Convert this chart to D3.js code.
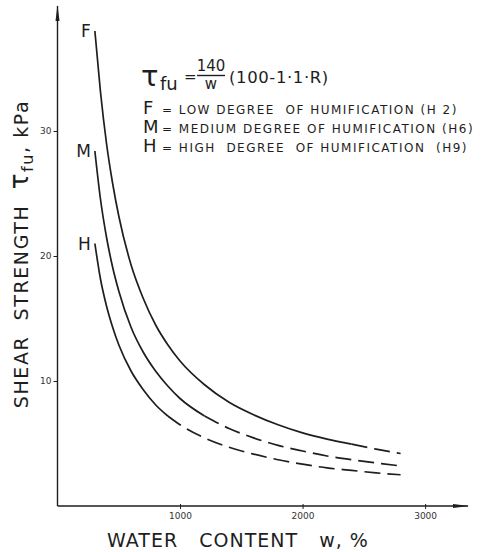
<!DOCTYPE html>
<html>
<head>
<meta charset="utf-8">
<script src="https://cdn.jsdelivr.net/npm/d3@7"></script>
<style>
  body { margin: 0; background: #fff; }
  svg { display: block; }
  text { font-family: "DejaVu Sans", sans-serif; fill: #1e1e1e; white-space: pre; }
  .tick text { font-size: 9px; fill: #333; }
</style>
</head>
<body>
<svg id="chart" width="504" height="552"></svg>
<script>
// DATA
var waterContent = [305, 350, 400, 450, 500, 600, 700, 800, 900, 1000, 1200, 1400, 1600, 1800, 2000, 2200, 2400, 2600, 2800];
var tauF = [38.0, 33.2, 29.0, 25.8, 23.2, 19.3, 16.6, 14.5, 12.9, 11.6, 9.7, 8.3, 7.3, 6.5, 5.85, 5.35, 4.95, 4.55, 4.2];
var tauM = [28.4, 24.6, 21.5, 19.1, 17.2, 14.3, 12.3, 10.8, 9.6, 8.6, 7.2, 6.2, 5.45, 4.85, 4.4, 4.0, 3.7, 3.45, 3.2];
var tauH = [21.0, 18.2, 16.0, 14.3, 12.9, 10.8, 9.3, 8.1, 7.2, 6.5, 5.45, 4.7, 4.15, 3.7, 3.35, 3.05, 2.85, 2.65, 2.5];
var curveNames = ["F", "M", "H"];
var solidUntil = [2400, 1200, 900];   // beyond this the curve is dashed
var xTicks = [1000, 2000, 3000];
var yTicks = [10, 20, 30];
var legendLines = [
  ["F", "= LOW DEGREE  OF HUMIFICATION (H 2)"],
  ["M", "= MEDIUM DEGREE OF HUMIFICATION (H6)"],
  ["H", "= HIGH  DEGREE  OF HUMIFICATION  (H9)"]
];

var svg = d3.select("#chart");
var ink = "#1e1e1e";

var x = d3.scaleLinear().domain([0, 3350]).range([57.5, 468]);
var y = d3.scaleLinear().domain([0, 40]).range([506, 6]);

// axes
var yAxis = svg.append("g")
    .attr("transform", "translate(" + x(0) + ",0)")
    .call(d3.axisLeft(y).tickValues(yTicks).tickSize(4).tickPadding(2).tickFormat(d3.format("d")));
yAxis.select(".domain").remove();
yAxis.selectAll("line").attr("stroke", ink);

var xAxis = svg.append("g")
    .attr("transform", "translate(0," + y(0) + ")")
    .call(d3.axisBottom(x).tickValues(xTicks).tickSize(3).tickPadding(4).tickFormat(d3.format("d")));
xAxis.select(".domain").remove();
xAxis.selectAll("line").attr("stroke", ink).attr("y1", -2);

svg.append("line")
    .attr("x1", x(0)).attr("x2", x(0))
    .attr("y1", y(0)).attr("y2", y(40))
    .attr("stroke", ink).attr("stroke-width", 1.4);
svg.append("line")
    .attr("x1", x(0)).attr("x2", x(3350))
    .attr("y1", y(0)).attr("y2", y(0))
    .attr("stroke", ink).attr("stroke-width", 1.4);

// arrow heads
svg.append("path")
    .attr("d", "M" + x(0) + "," + (y(40) - 1) + " l-2,16 l4,0 z")
    .attr("fill", ink);
svg.append("path")
    .attr("d", "M" + (x(3350) + 1) + "," + y(0) + " l-16,-2 l0,4 z")
    .attr("fill", ink);

// curves
var series = [tauF, tauM, tauH];
var line = d3.line()
    .x(function(d) { return x(d[0]); })
    .y(function(d) { return y(d[1]); })
    .curve(d3.curveMonotoneX);

series.forEach(function(vals, i) {
  var pts = waterContent.map(function(w, j) { return [w, vals[j]]; });
  var solid = pts.filter(function(p) { return p[0] <= solidUntil[i]; });
  var dashed = pts.filter(function(p) { return p[0] >= solidUntil[i]; });

  svg.append("path")
      .datum(solid)
      .attr("d", line)
      .attr("fill", "none")
      .attr("stroke", ink)
      .attr("stroke-width", 1.7);

  svg.append("path")
      .datum(dashed)
      .attr("d", line)
      .attr("fill", "none")
      .attr("stroke", ink)
      .attr("stroke-width", 1.7)
      .attr("stroke-dasharray", "16,7");

  svg.append("text")
      .attr("x", x(pts[0][0]) - 4)
      .attr("y", y(pts[0][1]) + 6)
      .attr("text-anchor", "end")
      .attr("font-size", 17)
      .text(curveNames[i]);
});

// formula
var f = svg.append("g");
f.append("text").attr("x", 141).attr("y", 86).attr("font-size", 29).text("τ");
f.append("text").attr("x", 160).attr("y", 90).attr("font-size", 18).text("fu");
f.append("text").attr("x", 184).attr("y", 82).attr("font-size", 15).text("=");
f.append("text").attr("x", 211).attr("y", 71).attr("font-size", 15).attr("text-anchor", "middle").text("140");
f.append("line").attr("x1", 197).attr("x2", 225).attr("y1", 75.5).attr("y2", 75.5)
    .attr("stroke", ink).attr("stroke-width", 1.4);
f.append("text").attr("x", 211).attr("y", 89).attr("font-size", 15).attr("text-anchor", "middle").text("w");
f.append("text").attr("x", 229).attr("y", 83).attr("font-size", 16.5).attr("letter-spacing", 0.6).text("(100-1·1·R)");

// legend
var leg = svg.append("g").selectAll("g")
    .data(legendLines)
    .enter().append("g")
    .attr("transform", function(d, i) { return "translate(143," + (114 + i * 19) + ")"; });
leg.append("text").attr("font-size", 18).text(function(d) { return d[0]; });
leg.append("text").attr("x", 19).attr("font-size", 12).attr("letter-spacing", 1.5)
    .text(function(d) { return d[1]; });

// axis titles
svg.append("text")
    .attr("x", 238).attr("y", 547)
    .attr("text-anchor", "middle")
    .attr("font-size", 19)
    .attr("letter-spacing", 1)
    .text("WATER   CONTENT   w, %");

var yl = svg.append("text")
    .attr("transform", "translate(28,254) rotate(-90)")
    .attr("text-anchor", "middle")
    .attr("font-size", 19)
    .attr("letter-spacing", 1.6);
yl.append("tspan").text("SHEAR  STRENGTH  ");
yl.append("tspan").attr("font-size", 26).text("τ");
yl.append("tspan").attr("font-size", 16).attr("dy", 5).text("fu");
yl.append("tspan").attr("dy", -5).text(", kPa");
</script>
</body>
</html>
